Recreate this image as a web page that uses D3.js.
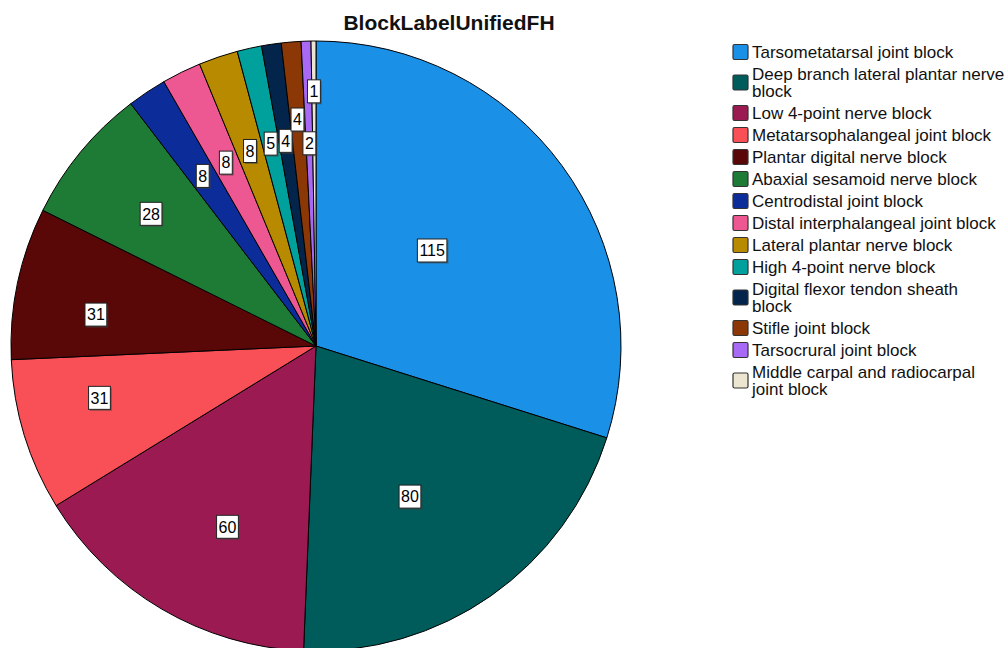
<!DOCTYPE html>
<html><head><meta charset="utf-8">
<script src="https://cdn.jsdelivr.net/npm/d3@7"></script>
<style>body{margin:0;background:#fff;}svg{display:block;font-family:"Liberation Sans",Arial,sans-serif;}</style>
</head><body>
<svg id="chart" width="1006" height="648"></svg>
<script>
const title = "BlockLabelUnifiedFH";
const categories = [
  "Tarsometatarsal joint block",
  "Deep branch lateral plantar nerve block",
  "Low 4-point nerve block",
  "Metatarsophalangeal joint block",
  "Plantar digital nerve block",
  "Abaxial sesamoid nerve block",
  "Centrodistal joint block",
  "Distal interphalangeal joint block",
  "Lateral plantar nerve block",
  "High 4-point nerve block",
  "Digital flexor tendon sheath block",
  "Stifle joint block",
  "Tarsocrural joint block",
  "Middle carpal and radiocarpal joint block"
];
const counts = [115, 80, 60, 31, 31, 28, 8, 8, 8, 5, 4, 4, 2, 1];
const colors = ["#1a90e6","#005b5b","#9c1a52","#f94f57","#590707","#1e7b36","#0b2c99",
                "#ee5892","#b88a00","#00a09c","#03254b","#8c3806","#a86af5","#ece5d0"];
// legend wrapping (layout): number of words on the first line, 0 = no wrap
const legendWrapAfter = [0, 5, 0, 0, 0, 0, 0, 0, 0, 0, 4, 0, 0, 4];
// label placement (layout): radius as fraction of pie radius, angular nudge in degrees
const labelRadius = [0.493,0.582,0.66,0.73,0.729,0.693,0.67,0.67,0.675,0.68,0.68,0.745,0.665,0.835];
const labelShift  = [-3.2, 3.1, -4.3, 3.6, -3.8, -0.8, 0, 0, 0, 0, 0, 0, 0, 0];

const svg = d3.select("#chart");
const cx = 316, cy = 346, R = 305;

svg.append("text").attr("x", 449).attr("y", 30).attr("text-anchor","middle")
  .attr("font-size", 21).attr("font-weight","bold").attr("fill","#111").text(title);

const pie = d3.pie().sort(null).value(d => d)(counts);
const arc = d3.arc().innerRadius(0).outerRadius(R);
const g = svg.append("g").attr("transform", `translate(${cx},${cy})`);
g.selectAll("path").data(pie).join("path")
  .attr("d", arc).attr("fill", (d,i) => colors[i])
  .attr("stroke", "#000").attr("stroke-width", 1).attr("stroke-linejoin","round");

const lg = g.append("g");
pie.forEach((d, i) => {
  const r = R * labelRadius[i];
  const a = (d.startAngle + d.endAngle) / 2 + labelShift[i] * Math.PI / 180;
  const x = r * Math.sin(a), y = -r * Math.cos(a);
  const t = lg.append("text").attr("x", x).attr("y", y).attr("dy","0.36em")
    .attr("text-anchor","middle").attr("font-size", 16).attr("fill","#000").text(counts[i]);
  const w = t.node().getComputedTextLength() + 4, h = 23;
  lg.insert("rect", "text").attr("x", x - w/2 + 1.5).attr("y", y - h/2 + 1.5)
    .attr("width", w).attr("height", h).attr("fill", "#444").attr("opacity", 0.55);
  lg.insert("rect", "text").attr("x", x - w/2).attr("y", y - h/2)
    .attr("width", w).attr("height", h)
    .attr("fill", "#fff").attr("stroke", "#222").attr("stroke-width", 1);
});

// legend
const leg = svg.append("g");
const tx = 752, fs = 17;
let y = 52;
categories.forEach((name, i) => {
  const words = name.split(" ");
  const n = legendWrapAfter[i];
  const lines = n ? [words.slice(0, n).join(" "), words.slice(n).join(" ")] : [name];
  const t = leg.append("text").attr("x", tx).attr("y", y).attr("font-size", fs).attr("fill","#111");
  lines.forEach((l, k) => t.append("tspan").attr("x", tx).attr("y", y + k*17).attr("dy","0.36em").text(l));
  const mid = y + (lines.length - 1) * 17 / 2;
  leg.append("rect").attr("x", 733).attr("y", mid - 7.5).attr("width", 15).attr("height", 15)
    .attr("rx", 1.5).attr("fill", colors[i]).attr("stroke", "#333").attr("stroke-width", 1.2);
  y += (lines.length - 1) * 17 + 22;
});
</script>
</body></html>
